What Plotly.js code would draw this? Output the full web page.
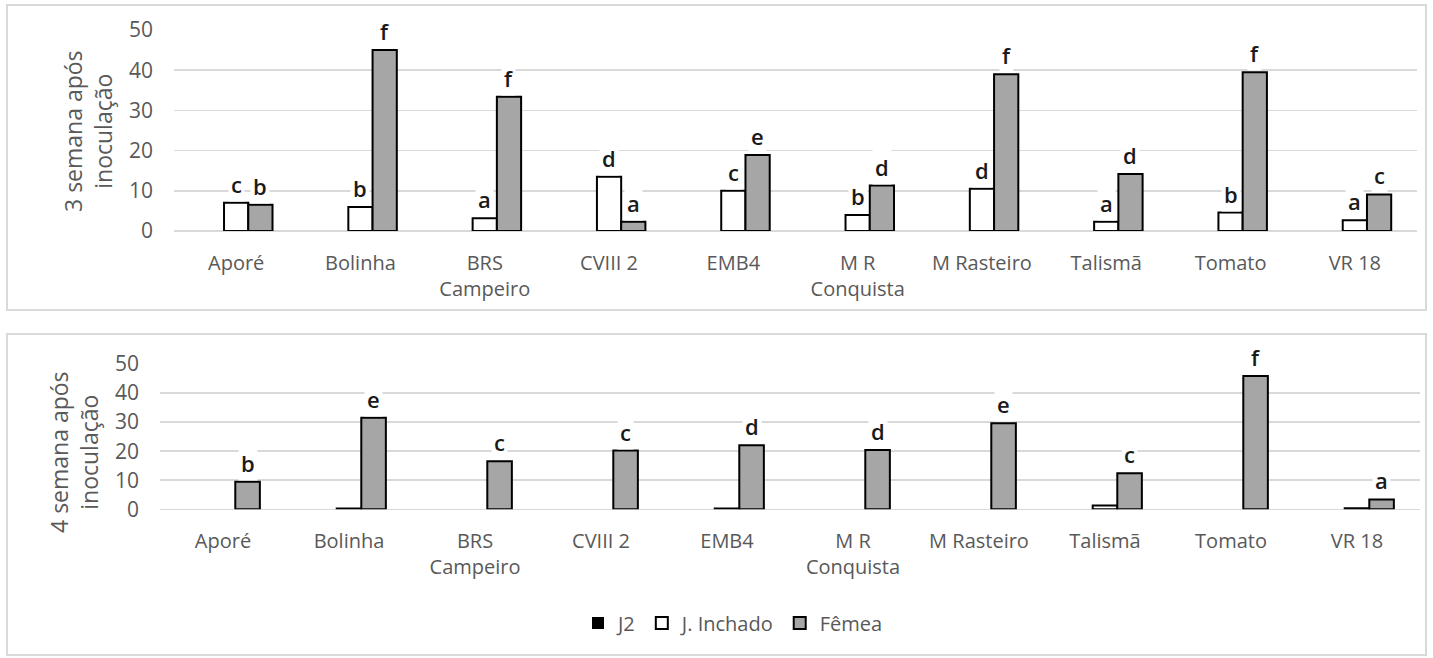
<!DOCTYPE html>
<html>
<head>
<meta charset="utf-8">
<script src="https://cdn.plot.ly/plotly-3.0.1.min.js"></script>
<style>html,body{margin:0;padding:0;background:#fff;}#chart{width:1433px;height:658px;}</style>
</head>
<body>
<div id="chart"></div>
<script>
// ---- data ----
const categories = ["Aporé", "Bolinha", "BRS<br>Campeiro", "CVIII 2", "EMB4", "M R<br>Conquista", "M Rasteiro", "Talismã", "Tomato", "VR 18"];
const seriesNames = ["J2", "J. Inchado", "Fêmea"];

// 3 semana após inoculação
const week3_J2      = [0, 0, 0, 0, 0, 0, 0, 0, 0, 0];
const week3_Inchado = [7.0, 6.0, 3.2, 13.5, 10.0, 4.0, 10.5, 2.3, 4.6, 2.7];
const week3_Femea   = [6.5, 45.0, 33.4, 2.3, 18.9, 11.3, 39.0, 14.2, 39.5, 9.1];
const week3_Inchado_letters = ["c", "b", "a", "d", "c", "b", "d", "a", "b", "a"];
const week3_Femea_letters   = ["b", "f", "f", "a", "e", "d", "f", "d", "f", "c"];

// 4 semana após inoculação
const week4_J2      = [0, 0, 0, 0, 0, 0, 0, 0, 0, 0];
const week4_Inchado = [0, 0.3, 0, 0, 0.3, 0, 0, 1.3, 0, 0.4];
const week4_Femea   = [9.5, 31.5, 16.5, 20.2, 22.0, 20.4, 29.6, 12.4, 45.9, 3.4];
const week4_Femea_letters = ["b", "e", "c", "c", "d", "d", "e", "c", "f", "a"];

const yTitle3 = "3 semana após<br>inoculação";
const yTitle4 = "4 semana após<br>inoculação";

// ---- style ----
const W = 1433, H = 658;
const FONT = "Open Sans, Noto Sans, sans-serif";
const TXT = "#595959";
const GRID = "#d9d9d9";
const colors = ["#000000", "#ffffff", "#a6a6a6"];
const bargap = 0.415;
const bw = (1 - bargap) / 3;

const px = v => v / W;
const py = v => 1 - v / H;

function traces(vals, xa, ya, show) {
  return vals.map((v, k) => ({
    type: "bar",
    name: seriesNames[k],
    x: categories,
    y: v,
    xaxis: xa, yaxis: ya,
    marker: {color: colors[k], line: {color: "#000000", width: v.map(d => d === 0 ? 0 : 2)}},
    showlegend: show,
    hoverinfo: "skip"
  }));
}

const data = [
  ...traces([week3_J2, week3_Inchado, week3_Femea], "x", "y", true),
  ...traces([week4_J2, week4_Inchado, week4_Femea], "x2", "y2", false)
];
// legend symbols need an outline
data[0].marker.line.width = data[0].y.map(() => 0);

function letterAnns(vals, letters, k, xr, yr) {
  return vals.map((v, i) => ({
    x: i + (k - 1) * bw, y: v, xref: xr, yref: yr,
    text: letters[i], showarrow: false,
    yanchor: "middle", yshift: 19,
    bgcolor: "#ffffff", borderpad: 2,
    font: {family: FONT, size: 22, color: "#1a1a1a", weight: 600}
  }));
}

const annotations = [
  ...letterAnns(week3_Inchado, week3_Inchado_letters, 1, "x", "y"),
  ...letterAnns(week3_Femea, week3_Femea_letters, 2, "x", "y"),
  ...letterAnns(week4_Femea, week4_Femea_letters, 2, "x2", "y2"),
  {text: yTitle3, x: px(88), y: py(131), xref: "paper", yref: "paper", showarrow: false,
   textangle: -90, xanchor: "center", yanchor: "middle",
   font: {family: FONT, size: 23, color: TXT}},
  {text: yTitle4, x: px(74), y: py(452), xref: "paper", yref: "paper", showarrow: false,
   textangle: -90, xanchor: "center", yanchor: "middle",
   font: {family: FONT, size: 23, color: TXT}}
];

function xAxis(dom, anchor) {
  return {
    domain: dom, anchor: anchor, type: "category",
    showgrid: false, showline: false, zeroline: false,
    ticks: "", ticklabelstandoff: 18,
    tickfont: {family: FONT, size: 20, color: TXT},
    fixedrange: true
  };
}
function yAxis(dom, anchor) {
  return {
    domain: dom, anchor: anchor, range: [0, 50], dtick: 10,
    showgrid: true, gridcolor: GRID, gridwidth: 1.5,
    zeroline: true, zerolinecolor: GRID, zerolinewidth: 1.5,
    showline: false, ticks: "", ticklabelstandoff: 20,
    tickfont: {family: FONT, size: 21, color: TXT},
    fixedrange: true
  };
}

const layout = {
  width: W, height: H,
  margin: {l: 0, r: 0, t: 0, b: 0, autoexpand: false},
  paper_bgcolor: "#ffffff", plot_bgcolor: "rgba(0,0,0,0)",
  barmode: "group", bargap: bargap, bargroupgap: 0,
  xaxis: xAxis([px(174), px(1417)], "y"),
  yaxis: yAxis([py(231), py(30)], "x"),
  xaxis2: xAxis([px(160), px(1420)], "y2"),
  yaxis2: yAxis([py(509.3), py(364)], "x2"),
  showlegend: true,
  legend: {
    orientation: "h", x: px(733), xanchor: "center", y: py(623), yanchor: "middle",
    font: {family: FONT, size: 20, color: TXT}, traceorder: "normal",
    itemclick: false, itemdoubleclick: false
  },
  shapes: [
    {type: "rect", xref: "paper", yref: "paper", x0: px(7), x1: px(1426), y0: py(5), y1: py(310),
     line: {color: GRID, width: 2}, fillcolor: "rgba(0,0,0,0)", layer: "below"},
    {type: "rect", xref: "paper", yref: "paper", x0: px(7), x1: px(1426), y0: py(334), y1: py(655),
     line: {color: GRID, width: 2}, fillcolor: "rgba(0,0,0,0)", layer: "below"}
  ],
  annotations: annotations
};

Plotly.newPlot("chart", data, layout, {displayModeBar: false, staticPlot: true});
</script>
</body>
</html>
